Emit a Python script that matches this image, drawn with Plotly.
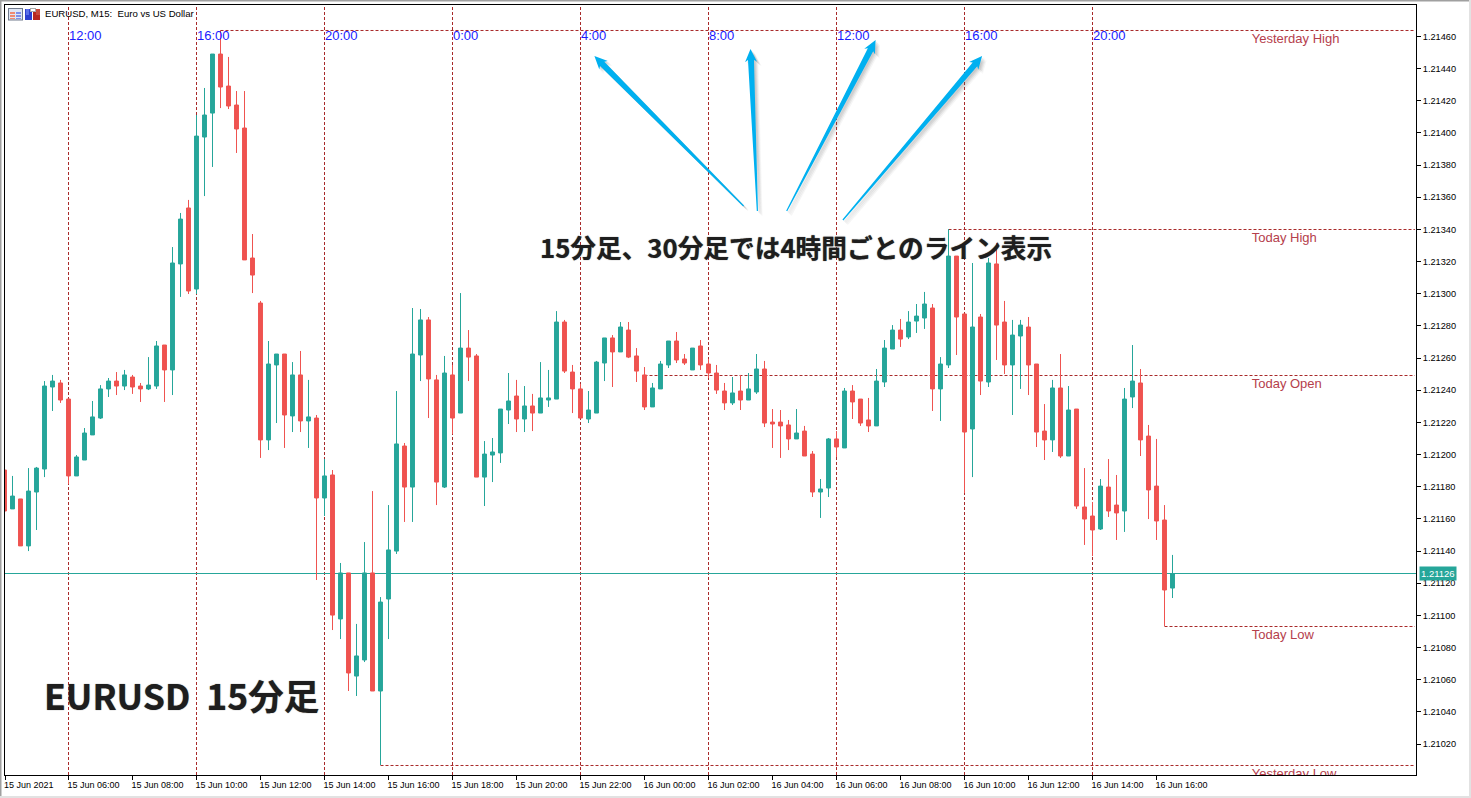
import plotly.graph_objects as go

# Prices are stored as points above 1.21000 (1 point = 0.00001)
BASE = 1.21
POINT = 0.00001

opens = [190.4,166.2,172.4,143.2,176.7,191.0,242.0,244.5,234.5,186.7,196.6,212.2,222.7,240.8,245.7,242.6,248.2,242.6,240.8,242.6,
268.1,252.6,318.5,353.3,302.9,397.4,412.3,449.0,429.1,417.3,403.0,322.2,294.2,209.1,255.7,262.5,224.0,249.5,220.9,222.7,
173.0,187.3,97.8,126.4,62.3,72.3,126.4,53.0,110.2,140.0,205.3,179.8,261.9,283.7,246.4,179.8,249.5,225.8,266.2,261.3,
186.0,199.7,201.0,227.7,236.4,222.1,230.2,225.8,233.9,234.5,282.4,251.3,240.8,222.1,225.8,256.9,272.5,263.8,277.4,261.3,
249.5,229.6,240.8,255.7,270.6,259.4,252.6,267.5,256.3,250.7,239.5,232.1,239.5,233.9,238.9,253.2,220.2,220.2,218.4,209.7,
214.6,200.3,176.7,179.2,209.7,204.1,239.5,234.5,221.5,217.8,245.1,265.6,277.4,273.1,283.0,284.9,291.1,240.8,255.7,323.4,
287.4,215.9,285.5,245.1,318.5,282.4,255.7,273.7,279.3,256.3,214.6,209.1,241.4,199.1,228.3,167.4,161.8,153.7,179.8,168.6,
164.9,235.8,244.5,211.5,180.4,159.3,117.0]
highs = [190.4,186.7,172.4,191.6,192.3,245.7,249.5,246.4,234.5,199.7,216.5,233.3,243.2,247.6,251.3,252.6,249.5,244.5,260.6,270.6,
268.1,329.0,350.2,358.3,411.1,427.9,449.0,463.9,447.2,426.0,426.0,337.1,295.5,270.6,262.5,262.5,257.5,264.4,246.4,224.6,
197.2,190.4,132.6,126.4,94.7,145.6,177.3,111.4,168.6,239.5,207.2,291.1,290.5,285.5,249.5,261.3,255.7,300.4,277.4,262.5,
208.4,210.3,228.3,250.7,246.4,242.6,237.7,257.5,252.6,289.2,283.7,255.7,243.9,239.5,258.2,272.5,274.3,282.4,282.4,266.2,
254.4,244.5,258.2,270.6,276.2,262.5,266.2,271.2,259.4,255.7,244.5,248.2,249.5,250.7,262.5,258.2,228.3,227.7,221.5,228.3,
217.8,202.2,184.8,210.3,214.6,241.4,243.2,234.5,235.2,253.2,271.2,280.5,284.3,289.2,293.6,301.1,293.6,260.6,340.2,323.4,
287.4,319.1,287.4,322.2,331.5,295.5,283.7,283.7,285.5,256.3,231.4,246.4,262.5,242.6,228.3,191.6,170.5,184.8,197.2,187.3,
241.4,268.1,253.2,218.4,209.7,168.6,137.6]
lows = [164.9,166.2,143.2,140.0,153.1,186.0,227.1,232.1,181.7,186.7,196.6,212.2,222.1,235.8,237.0,240.1,237.7,232.7,240.1,240.8,
232.7,237.0,298.0,299.8,299.8,360.7,378.8,415.4,414.8,387.5,321.0,300.4,197.9,202.8,219.6,204.1,214.0,214.0,204.1,122.0,
161.8,90.9,85.3,53.0,49.9,71.0,53.0,7.0,85.3,138.2,158.1,158.1,245.7,222.7,168.6,179.2,212.8,225.8,245.7,186.0,
168.0,182.9,194.8,219.0,214.0,214.0,214.6,225.8,229.6,234.5,250.7,225.8,222.7,219.6,225.8,245.7,242.0,263.8,260.0,245.1,
227.7,229.6,240.8,253.8,256.9,255.7,252.6,252.6,247.6,237.7,227.7,230.8,227.7,233.9,237.7,217.1,204.1,197.9,202.8,209.7,
199.1,173.6,160.6,173.6,198.5,204.1,222.1,217.8,214.0,217.8,242.0,265.6,266.9,271.8,275.6,278.1,227.1,220.9,253.8,261.9,
176.1,186.0,237.0,242.0,258.8,250.1,224.6,240.8,237.0,204.7,196.6,201.6,197.9,199.1,166.2,143.8,136.9,153.1,161.2,146.9,
151.9,228.9,199.1,159.9,146.9,93.4,110.8]
closes = [164.9,174.2,143.2,177.3,191.6,242.6,245.7,233.9,186.7,198.5,213.4,223.4,240.8,245.7,242.6,249.5,242.0,240.8,243.2,267.5,
252.6,319.1,346.4,301.7,398.0,411.1,449.0,428.5,416.7,402.4,321.0,311.6,209.1,256.3,262.5,224.6,249.5,220.9,223.4,173.0,
186.7,100.2,126.4,64.2,74.8,126.4,53.0,108.3,140.7,206.6,179.8,262.5,283.7,247.0,182.9,250.7,222.7,266.2,260.6,186.0,
200.3,201.6,228.3,233.3,222.1,230.2,225.8,235.2,235.2,282.4,251.9,240.8,222.7,227.7,257.5,272.5,263.8,279.3,260.6,251.9,
229.6,241.4,256.3,270.6,258.8,256.9,266.2,255.7,250.7,240.1,232.1,238.3,233.9,240.8,253.2,219.6,219.0,217.8,209.7,213.4,
199.1,176.7,178.6,209.7,204.7,239.5,232.7,219.6,217.8,245.7,266.2,277.4,271.8,282.4,286.1,293.6,240.8,256.3,323.4,285.5,
214.0,279.3,245.7,319.1,280.5,255.7,274.3,280.5,255.7,214.0,209.1,241.4,199.1,227.7,168.0,159.9,153.1,180.4,164.9,163.7,
234.5,245.7,209.1,178.0,158.7,115.8,126.0]

bar_tick_index = [0,8,16,24,32,40,48,56,64,72,80,88,96,104,112,120,128,136,144]
bar_tick_labels = ["15 Jun 2021","15 Jun 06:00","15 Jun 08:00","15 Jun 10:00","15 Jun 12:00","15 Jun 14:00","15 Jun 16:00",
                   "15 Jun 18:00","15 Jun 20:00","15 Jun 22:00","16 Jun 00:00","16 Jun 02:00","16 Jun 04:00","16 Jun 06:00",
                   "16 Jun 08:00","16 Jun 10:00","16 Jun 12:00","16 Jun 14:00","16 Jun 16:00"]
price_ticks = [1.21020,1.21040,1.21060,1.21080,1.21100,1.21120,1.21140,1.21160,1.21180,1.21200,1.21220,1.21240,
               1.21260,1.21280,1.21300,1.21320,1.21340,1.21360,1.21380,1.21400,1.21420,1.21440,1.21460]

session_index = [8,24,40,56,72,88,104,120,136]
session_labels = ["12:00","16:00","20:00","0:00","4:00","8:00","12:00","16:00","20:00"]

level_names = ["Yesterday High","Today High","Today Open","Today Low","Yesterday Low"]
level_points = [463.64,339.92,249.15,93.10,6.69]
level_start = [27,118,80,145,47]
label_index = 155.9
label_drop = 1.4

current_price_points = 126.05

GREEN = "#26a69a"
RED = "#ef5350"
DASH = "#a82a2a"
LABEL = "#b5404c"
CYAN = "#00b0f0"
INK = "#1e1e1e"

W, H = 1471, 798
L, R, T, B = 5, 1416, 5, 775
X_MIN, X_MAX = 0.0625, 176.4375

def price(v):
    return round(BASE + v * POINT, 7)

def px(x):
    return (x - L) / (R - L)

def py(y):
    return 1 - (y - T) / (B - T)

def rect(x0, y0, x1, y1, color):
    return dict(type="rect", xref="paper", yref="paper", x0=px(x0), x1=px(x1), y0=py(y0), y1=py(y1),
                fillcolor=color, line=dict(width=0), layer="above")

def arrow_path(tail, tip, dx=0.0, dy=0.0):
    ux, uy = tip[0] - tail[0], tip[1] - tail[1]
    n = (ux ** 2 + uy ** 2) ** 0.5
    ux, uy = ux / n, uy / n
    nx, ny = -uy, ux
    bx, by = tip[0] - ux * 13, tip[1] - uy * 13
    pts = [(tail[0] + nx * 0.6, tail[1] + ny * 0.6), (bx + nx * 3.0 + ux * 2, by + ny * 3.0 + uy * 2),
           (bx + nx * 6, by + ny * 6), tip, (bx - nx * 6, by - ny * 6),
           (bx - nx * 3.0 + ux * 2, by - ny * 3.0 + uy * 2), (tail[0] - nx * 0.6, tail[1] - ny * 0.6)]
    return "M " + " L ".join(f"{px(a + dx):.5f},{py(b + dy):.5f}" for a, b in pts) + " Z"

arrow_tails = [(743.6, 206), (757.4, 211), (786.7, 211), (842.9, 220)]
arrow_tips = [(594.4, 56), (750.5, 49), (875.6, 40), (982.1, 56)]

shapes = []
# window frame
shapes += [rect(0, 0, W, 1.5, "#a0a0a0"), rect(0, 0, 1.5, H, "#a0a0a0"),
           rect(1469, 0, W, H, "#e2e2e2"), rect(0, 796, W, H, "#e2e2e2")]
# four-hour lines
for i in session_index:
    shapes.append(dict(type="line", xref="x", yref="paper", x0=i, x1=i, y0=0, y1=1, layer="below",
                       line=dict(color=DASH, width=1, dash="3px,2px")))
# daily levels
for v, s in zip(level_points, level_start):
    shapes.append(dict(type="line", xref="x", yref="y", x0=s, x1=176.3, y0=price(v), y1=price(v), layer="below",
                       line=dict(color=DASH, width=1, dash="3px,2px")))
# current price line
shapes.append(dict(type="line", xref="paper", yref="y", x0=0, x1=1, y0=price(current_price_points),
                   y1=price(current_price_points), layer="below", line=dict(color=GREEN, width=1)))
# arrows with a soft shadow
for tail, tip in zip(arrow_tails, arrow_tips):
    for d, op in [(1.5, 0.10), (2.5, 0.10), (3.5, 0.08), (4.5, 0.05)]:
        shapes.append(dict(type="path", xref="paper", yref="paper", path=arrow_path(tail, tip, d, d),
                           fillcolor="#505050", opacity=op, line=dict(width=0), layer="above"))
    shapes.append(dict(type="path", xref="paper", yref="paper", path=arrow_path(tail, tip),
                       fillcolor=CYAN, line=dict(width=0), layer="above"))
# toolbar icons
shapes += [rect(8, 8, 23, 20.5, "#707a8c"), rect(9, 9, 22, 19.5, "#dfe6f5"),
           rect(10, 12, 15, 14, "#f08a70"), rect(10, 15, 15, 17, "#f08a70"), rect(10, 18, 15, 19, "#f08a70"),
           rect(16, 12, 21, 14, "#7f8fe8"), rect(16, 15, 21, 17, "#7f8fe8"), rect(16, 18, 21, 19, "#7f8fe8"),
           rect(25, 9, 32, 20, "#2c3fd0"), rect(26, 9, 29, 15, "#5a6fe8"), rect(33, 9, 40, 20, "#b8281e"),
           rect(36, 9, 40, 15, "#c84a3a"), rect(30, 8, 36, 12, "#a8a8a8"), rect(31, 9, 35, 11, "#ffffff")]

annotations = []
for i, t in zip(session_index, session_labels):
    annotations.append(dict(x=i, xref="x", y=py(36), yref="paper", text=t, showarrow=False, xanchor="left",
                            yanchor="middle", xshift=-2, font=dict(family="Liberation Sans", size=13, color="#1a1aff")))
annotations.append(dict(x=px(45), xref="paper", y=py(14), yref="paper", text="EURUSD, M15:  Euro vs US Dollar",
                        showarrow=False, xanchor="left", yanchor="middle", xshift=-2,
                        font=dict(family="Liberation Sans", size=9.6, color="#000000")))
annotations.append(dict(x=px(796), xref="paper", y=py(246.5), yref="paper", text="15分足、30分足では4時間ごとのライン表示",
                        showarrow=False, xanchor="center", yanchor="middle",
                        font=dict(family="Noto Sans CJK JP", size=25.7, color=INK, weight=700, shadow="0 0 1px #555555")))
annotations.append(dict(x=px(181), xref="paper", y=py(694), yref="paper", text="EURUSD\u00a0\u00a015分足",
                        showarrow=False, xanchor="center", yanchor="middle",
                        font=dict(family="Noto Sans CJK JP", size=35.5, color=INK, weight=700, shadow="0 0 1px #555555")))
annotations.append(dict(x=px(1438.5), xref="paper", y=price(current_price_points), yref="y",
                        text=f"{price(current_price_points):.5f}", showarrow=False, xanchor="center", yanchor="middle",
                        bgcolor=GREEN, borderpad=1, font=dict(family="Liberation Sans", size=9.5, color="#ffffff")))

x_index = list(range(len(opens)))

fig = go.Figure()
fig.add_trace(go.Candlestick(
    x=x_index,
    open=[price(v) for v in opens],
    high=[price(v) for v in highs],
    low=[price(v) for v in lows],
    close=[price(v) for v in closes],
    increasing=dict(line=dict(color=GREEN, width=1), fillcolor=GREEN),
    decreasing=dict(line=dict(color=RED, width=1), fillcolor=RED),
    whiskerwidth=0,
    hoverinfo="skip",
    showlegend=False,
))
fig.add_trace(go.Scatter(
    x=[label_index] * len(level_names),
    y=[price(v - label_drop) for v in level_points],
    text=level_names,
    mode="text",
    textposition="bottom right",
    textfont=dict(family="Liberation Sans", size=13, color=LABEL),
    cliponaxis=True,
    hoverinfo="skip",
    showlegend=False,
))

fig.update_layout(
    width=W, height=H,
    margin=dict(l=L, r=W - R, t=T, b=H - B, pad=0),
    paper_bgcolor="#ffffff",
    plot_bgcolor="#ffffff",
    showlegend=False,
    shapes=shapes,
    annotations=annotations,
    xaxis=dict(
        type="linear", range=[X_MIN, X_MAX], rangeslider=dict(visible=False),
        tickmode="array", tickvals=[max(i, X_MIN + 0.001) for i in bar_tick_index], ticktext=bar_tick_labels,
        ticklabelposition="outside right", ticklabelshift=-2, ticklabelstandoff=1,
        ticks="outside", ticklen=4, tickcolor="#000000", tickwidth=1,
        tickfont=dict(family="Liberation Sans", size=9, color="#000000"),
        showgrid=False, zeroline=False, showline=True, linecolor="#000000", linewidth=1, mirror=True,
    ),
    yaxis=dict(
        range=[price(0.78), price(479.49)], side="right",
        tickmode="array", tickvals=price_ticks, ticktext=[f"{p:.5f}" for p in price_ticks],
        ticks="outside", ticklen=4, tickcolor="#000000", tickwidth=1,
        tickfont=dict(family="Liberation Sans", size=9.2, color="#000000"),
        showgrid=False, zeroline=False, showline=True, linecolor="#000000", linewidth=1, mirror=True,
    ),
)

fig.write_html("out.html", config=dict(displayModeBar=False),
               post_script="document.body.style.margin='0';document.body.style.overflow='hidden';")
